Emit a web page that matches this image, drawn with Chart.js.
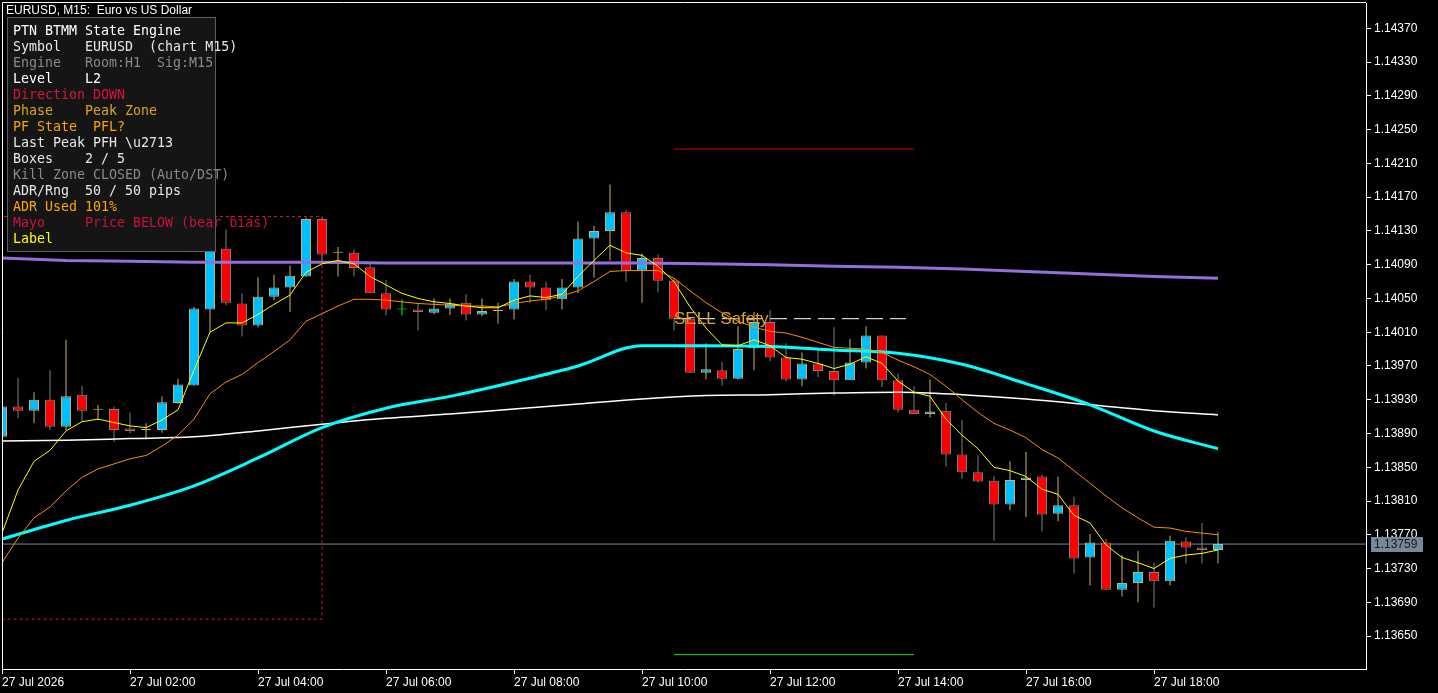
<!DOCTYPE html>
<html>
<head>
<meta charset="utf-8">
<title>EURUSD M15</title>
<script src="https://cdn.jsdelivr.net/npm/chart.js@4.4.1/dist/chart.umd.min.js"></script>
<style>
  html, body { margin: 0; padding: 0; background: #000; overflow: hidden; }
  canvas { display: block; }
</style>
</head>
<body>
<canvas id="eurusdChart" width="1438" height="693"></canvas>
<script>
// M15 candles, 27 Jul 00:00 -> 19:00
const opens  = [1.13886,1.13922,1.13917,1.13930,1.13898,1.13936,1.13918,1.13919,1.13896,1.13894,
                1.13894,1.13926,1.13947,1.14037,1.14109,1.14044,1.14018,1.14052,1.14063,1.14076,
                1.14144,1.14104,1.14104,1.14087,1.14056,1.14037,1.14037,1.14033,1.14038,1.14045,
                1.14031,1.14035,1.14037,1.14070,1.14063,1.14049,1.14063,1.14121,1.14130,1.14152,
                1.14083,1.14098,1.14071,1.14026,1.13962,1.13965,1.13955,1.13991,1.14022,1.13980,
                1.13954,1.13973,1.13964,1.13953,1.13974,1.14006,1.13953,1.13918,1.13913,1.13917,
                1.13865,1.13844,1.13834,1.13806,1.13835,1.13839,1.13795,1.13805,1.13743,1.13761,
                1.13705,1.13713,1.13726,1.13715,1.13762,1.13755,1.13752];
const highs  = [1.13924,1.13956,1.13939,1.13965,1.14001,1.13947,1.13924,1.13922,1.13915,1.13902,
                1.13934,1.13955,1.14040,1.14115,1.14132,1.14056,1.14075,1.14078,1.14089,1.14146,
                1.14146,1.14111,1.14108,1.14091,1.14072,1.14049,1.14044,1.14050,1.14050,1.14055,
                1.14050,1.14045,1.14073,1.14078,1.14070,1.14073,1.14141,1.14136,1.14185,1.14155,
                1.14103,1.14102,1.14074,1.14026,1.13997,1.13975,1.14017,1.14034,1.14036,1.13997,
                1.13986,1.13990,1.14016,1.14002,1.14017,1.14006,1.13961,1.13946,1.13954,1.13926,
                1.13906,1.13864,1.13840,1.13857,1.13868,1.13841,1.13839,1.13815,1.13771,1.13765,
                1.13746,1.13751,1.13737,1.13769,1.13767,1.13784,1.13773];
const lows   = [1.13884,1.13908,1.13902,1.13894,1.13894,1.13905,1.13906,1.13880,1.13890,1.13883,
                1.13891,1.13925,1.13947,1.14010,1.14042,1.14005,1.14016,1.14048,1.14034,1.14076,
                1.14095,1.14076,1.14076,1.14056,1.14030,1.14030,1.14012,1.14031,1.14030,1.14024,
                1.14029,1.14020,1.14025,1.14045,1.14036,1.14037,1.14056,1.14075,1.14095,1.14070,
                1.14045,1.14057,1.14012,1.13962,1.13954,1.13947,1.13954,1.13965,1.13976,1.13952,
                1.13946,1.13957,1.13935,1.13953,1.13967,1.13945,1.13915,1.13913,1.13909,1.13851,
                1.13836,1.13832,1.13763,1.13799,1.13791,1.13774,1.13786,1.13724,1.13710,1.13705,
                1.13697,1.13690,1.13684,1.13710,1.13736,1.13736,1.13736];
const closes = [1.13922,1.13917,1.13930,1.13898,1.13934,1.13917,1.13919,1.13894,1.13893,1.13895,
                1.13927,1.13948,1.14038,1.14109,1.14045,1.14018,1.14052,1.14063,1.14077,1.14144,
                1.14102,1.14105,1.14086,1.14056,1.14037,1.14037,1.14034,1.14038,1.14044,1.14031,
                1.14035,1.14036,1.14070,1.14063,1.14048,1.14063,1.14121,1.14130,1.14152,1.14083,
                1.14098,1.14071,1.14026,1.13962,1.13966,1.13955,1.13990,1.14022,1.13980,1.13954,
                1.13973,1.13964,1.13953,1.13974,1.14006,1.13953,1.13918,1.13913,1.13916,1.13865,
                1.13844,1.13833,1.13806,1.13835,1.13838,1.13794,1.13805,1.13742,1.13761,1.13705,
                1.13713,1.13726,1.13715,1.13763,1.13755,1.13752,1.13759];

// moving averages, one value per candle
const maFast = [1.13772,1.13823,1.13857,1.13870,1.13893,1.13904,1.13907,1.13903,1.13899,1.13897,
                1.13906,1.13918,1.13965,1.14010,1.14021,1.14021,1.14031,1.14043,1.14054,1.14081,
                1.14091,1.14095,1.14091,1.14076,1.14066,1.14056,1.14050,1.14046,1.14044,1.14041,
                1.14039,1.14039,1.14048,1.14053,1.14051,1.14055,1.14076,1.14095,1.14113,1.14104,
                1.14101,1.14088,1.14070,1.14040,1.14015,1.13995,1.13994,1.14001,1.13994,1.13980,
                1.13978,1.13973,1.13967,1.13972,1.13981,1.13973,1.13952,1.13939,1.13934,1.13907,
                1.13888,1.13872,1.13850,1.13846,1.13839,1.13824,1.13818,1.13793,1.13784,1.13758,
                1.13743,1.13737,1.13730,1.13742,1.13746,1.13748,1.13752];
const maMid  = [1.13737,1.13766,1.13790,1.13803,1.13822,1.13838,1.13848,1.13854,1.13860,1.13864,
                1.13875,1.13888,1.13907,1.13937,1.13951,1.13960,1.13974,1.13987,1.14001,1.14023,
                1.14032,1.14041,1.14049,1.14049,1.14048,1.14046,1.14044,1.14043,1.14042,1.14041,
                1.14041,1.14040,1.14044,1.14047,1.14049,1.14053,1.14059,1.14070,1.14082,1.14083,
                1.14083,1.14083,1.14074,1.14059,1.14045,1.14033,1.14023,1.14016,1.14011,1.14009,
                1.14004,1.13998,1.13992,1.13991,1.13990,1.13986,1.13977,1.13969,1.13960,1.13946,
                1.13930,1.13915,1.13902,1.13894,1.13885,1.13871,1.13861,1.13846,1.13831,1.13816,
                1.13802,1.13790,1.13779,1.13778,1.13774,1.13772,1.13770];

// slower averages, sampled every hour (candle index)
const slowIdx  = [0,4,8,12,16,20,24,28,32,36,40,44,48,52,56,60,64,68,72,76];
const maCyan   = [1.13765,1.13787,1.13805,1.13828,1.13861,1.13897,1.13920,1.13934,1.13951,1.13970,
                  1.13994,1.13994,1.13993,1.13989,1.13985,1.13972,1.13949,1.13924,1.13893,1.13872];
const maWhite  = [1.13881,1.13882,1.13884,1.13886,1.13893,1.13901,1.13908,1.13913,1.13919,1.13925,
                  1.13931,1.13935,1.13936,1.13938,1.13939,1.13936,1.13931,1.13924,1.13917,1.13912];
const maPurple = [1.14098,1.14095,1.14094,1.14093,1.14093,1.14093,1.14092,1.14092,1.14092,1.14092,
                  1.14092,1.14091,1.14090,1.14088,1.14087,1.14085,1.14082,1.14079,1.14076,1.14074];

// drawn objects
const boxRange   = [-4, 20];             // candle index
const boxLevels  = [1.14147, 1.13670];   // top, bottom
const zoneRange  = [42, 57];
const zoneHigh   = 1.14227;
const zoneLow    = 1.13628;
const sellRange  = [42, 56.5];
const sellLevel  = 1.14026;
const sellText   = 'SELL Safety';
const bidPrice   = 1.13759;

// axes
const xTickIdx = [0, 8, 16, 24, 32, 40, 48, 56, 64, 72];
const xLabels  = ['27 Jul 2026', '27 Jul 02:00', '27 Jul 04:00', '27 Jul 06:00', '27 Jul 08:00',
                  '27 Jul 10:00', '27 Jul 12:00', '27 Jul 14:00', '27 Jul 16:00', '27 Jul 18:00'];
const yTicks   = [1.13650, 1.13690, 1.13730, 1.13770, 1.13810, 1.13850, 1.13890, 1.13930, 1.13970,
                  1.14010, 1.14050, 1.14090, 1.14130, 1.14170, 1.14210, 1.14250, 1.14290, 1.14330, 1.14370];
const yMin = 1.13611, yMax = 1.14400;

const chartTitle = 'EURUSD, M15:  Euro vs US Dollar';
const panelLines = [
    ['PTN BTMM State Engine', '#ffffff'],
    ['Symbol   EURUSD  (chart M15)', '#e6e6e6'],
    ['Engine   Room:H1  Sig:M15', '#8a8a8a'],
    ['Level    L2', '#ffffff'],
    ['Direction DOWN', '#dc143c'],
    ['Phase    Peak Zone', '#daa520'],
    ['PF State  PFL?', '#ffa500'],
    ['Last Peak PFH \\u2713', '#e6e6e6'],
    ['Boxes    2 / 5', '#e6e6e6'],
    ['Kill Zone CLOSED (Auto/DST)', '#8a8a8a'],
    ['ADR/Rng  50 / 50 pips', '#e6e6e6'],
    ['ADR Used 101%', '#ffa500'],
    ['Mayo     Price BELOW (bear bias)', '#c8143c'],
    ['Label', '#ffff00']
];

const BULL = '#00bfff', BULL_EDGE = '#c8b46e', BEAR = '#ff0000', BEAR_EDGE = '#808080', DOJI = '#00ff00';

function candleDir(i) {
    if (closes[i] > opens[i]) return 1;
    if (closes[i] < opens[i]) return -1;
    return 0;
}

const wickData = highs.map((h, i) => ({ x: i, y: [lows[i], h] }));
const bodyData = opens.map((o, i) => ({ x: i, y: [o, closes[i]] }));
const xy = (idx, vals) => vals.map((v, k) => ({ x: idx[k], y: v }));
const perCandle = vals => vals.map((v, i) => ({ x: i, y: v }));

// frame, text labels and info panel
const overlayPlugin = {
    id: 'mtOverlay',
    beforeDraw(chart) {
        const c = chart.ctx;
        c.save();
        c.fillStyle = '#000';
        c.fillRect(0, 0, chart.width, chart.height);
        c.restore();
    },
    afterDatasetsDraw(chart) {
        const c = chart.ctx, xs = chart.scales.x, ys = chart.scales.y;
        c.save();
        c.font = '17px "Liberation Sans", Arial, sans-serif';
        c.fillStyle = '#daa520';
        c.textBaseline = 'middle';
        c.fillText(sellText, xs.getPixelForValue(sellRange[0]), ys.getPixelForValue(sellLevel) + 1);
        c.restore();
    },
    afterDraw(chart) {
        const c = chart.ctx, a = chart.chartArea, ys = chart.scales.y;
        c.save();
        // top / left frame
        c.strokeStyle = '#ffffff';
        c.lineWidth = 1;
        c.beginPath();
        c.moveTo(a.left + 0.5, a.bottom);
        c.lineTo(a.left + 0.5, a.top - 0.5);
        c.lineTo(a.right, a.top - 0.5);
        c.stroke();

        // bid label
        const by = Math.round(ys.getPixelForValue(bidPrice));
        c.fillStyle = '#778899';
        c.fillRect(a.right + 5, by - 7, 52, 15);
        c.fillStyle = '#1a1a1a';
        c.font = '12px "Liberation Sans", Arial, sans-serif';
        c.textBaseline = 'middle';
        c.fillText(bidPrice.toFixed(5), a.right + 8, by + 1);

        // title
        c.fillStyle = '#ffffff';
        c.font = '12px "Liberation Sans", Arial, sans-serif';
        c.fillText(chartTitle, 6, 11);

        // info panel
        c.fillStyle = '#151515';
        c.fillRect(7, 17, 209, 235);
        c.strokeStyle = '#5e5e5e';
        c.strokeRect(7.5, 17.5, 208, 234);
        c.font = '13.3px "DejaVu Sans Mono", "Liberation Mono", monospace';
        panelLines.forEach(([txt, col], k) => {
            c.fillStyle = col;
            c.fillText(txt, 13, 32 + k * 16);
        });
        c.restore();
    }
};

const axisFont = { family: '"Liberation Sans", Arial, sans-serif', size: 12 };

new Chart(document.getElementById('eurusdChart'), {
    type: 'bar',
    data: {
        datasets: [
            {
                type: 'line', data: xy(boxRange.concat(boxRange.slice().reverse()),
                    [boxLevels[0], boxLevels[0], boxLevels[1], boxLevels[1]]),
                borderColor: '#dc143c', borderWidth: 1, borderDash: [3, 3],
                pointRadius: 0, tension: 0, order: 20
            },
            {
                type: 'line', data: xy(zoneRange, [zoneHigh, zoneHigh]),
                borderColor: '#d00000', borderWidth: 1, pointRadius: 0, order: 20
            },
            {
                type: 'line', data: xy(zoneRange, [zoneLow, zoneLow]),
                borderColor: '#22dd22', borderWidth: 1, pointRadius: 0, order: 20
            },
            {
                type: 'line', data: xy(sellRange, [sellLevel, sellLevel]),
                borderColor: '#ffffff', borderWidth: 1, borderDash: [17, 7], pointRadius: 0, order: 20
            },
            {
                type: 'line', data: xy([0, 85.25], [bidPrice, bidPrice]),
                borderColor: '#778899', borderWidth: 1, pointRadius: 0, order: 19
            },
            {
                label: 'wick', data: wickData, order: 12, clip: 0,
                barThickness: 1, borderWidth: 0, inflateAmount: 0, minBarLength: 1,
                backgroundColor: ctx => candleDir(ctx.dataIndex) < 0 ? BEAR_EDGE : (candleDir(ctx.dataIndex) === 0 ? DOJI : BULL_EDGE)
            },
            {
                label: 'body', data: bodyData, order: 11, clip: 0,
                barThickness: 10, borderWidth: 1, borderSkipped: false, inflateAmount: 0, minBarLength: 1,
                backgroundColor: ctx => { const d = candleDir(ctx.dataIndex); return d > 0 ? BULL : (d < 0 ? BEAR : DOJI); },
                borderColor: ctx => { const d = candleDir(ctx.dataIndex); return d > 0 ? BULL_EDGE : (d < 0 ? BEAR_EDGE : DOJI); }
            },
            {
                type: 'line', data: xy(slowIdx, maWhite), borderColor: '#ffffff', borderWidth: 1.5,
                pointRadius: 0, cubicInterpolationMode: 'monotone', order: 5
            },
            {
                type: 'line', data: xy(slowIdx, maCyan), borderColor: '#00ffff', borderWidth: 3,
                pointRadius: 0, cubicInterpolationMode: 'monotone', order: 4
            },
            {
                type: 'line', data: xy(slowIdx, maPurple), borderColor: '#9370db', borderWidth: 3,
                pointRadius: 0, tension: 0, order: 3
            },
            {
                type: 'line', data: perCandle(maMid), borderColor: '#ff8c00', borderWidth: 1,
                pointRadius: 0, tension: 0, order: 2
            },
            {
                type: 'line', data: perCandle(maFast), borderColor: '#ffff00', borderWidth: 1,
                pointRadius: 0, tension: 0, order: 1
            }
        ]
    },
    options: {
        responsive: false,
        animation: false,
        devicePixelRatio: 1,
        layout: { padding: { left: 2, top: 3, right: 0, bottom: 0 } },
        plugins: { legend: { display: false }, tooltip: { enabled: false } },
        datasets: { bar: { grouped: false } },
        scales: {
            x: {
                type: 'linear', min: 0, max: 85.25, offset: false,
                afterBuildTicks: s => { s.ticks = xTickIdx.map(v => ({ value: v })); },
                afterFit: s => { s.height = 24; s.paddingLeft = 0; s.paddingRight = 0; },
                grid: { drawOnChartArea: false, drawTicks: true, tickLength: 5, color: '#ffffff', offset: false },
                border: { display: true, color: '#ffffff', width: 1 },
                ticks: {
                    color: '#ffffff', font: axisFont, align: 'start', padding: 1,
                    maxRotation: 0, autoSkip: false,
                    callback: (v, i) => xLabels[i]
                }
            },
            y: {
                type: 'linear', position: 'right', min: yMin, max: yMax,
                afterBuildTicks: s => { s.ticks = yTicks.map(v => ({ value: v })); },
                afterFit: s => { s.width = 72; s.paddingTop = 0; s.paddingBottom = 0; },
                grid: { drawOnChartArea: false, drawTicks: true, tickLength: 5, color: '#ffffff' },
                border: { display: true, color: '#ffffff', width: 1 },
                ticks: {
                    color: '#ffffff', font: axisFont, padding: 3,
                    callback: v => Number(v).toFixed(5)
                }
            }
        }
    },
    plugins: [overlayPlugin]
});
</script>
</body>
</html>
